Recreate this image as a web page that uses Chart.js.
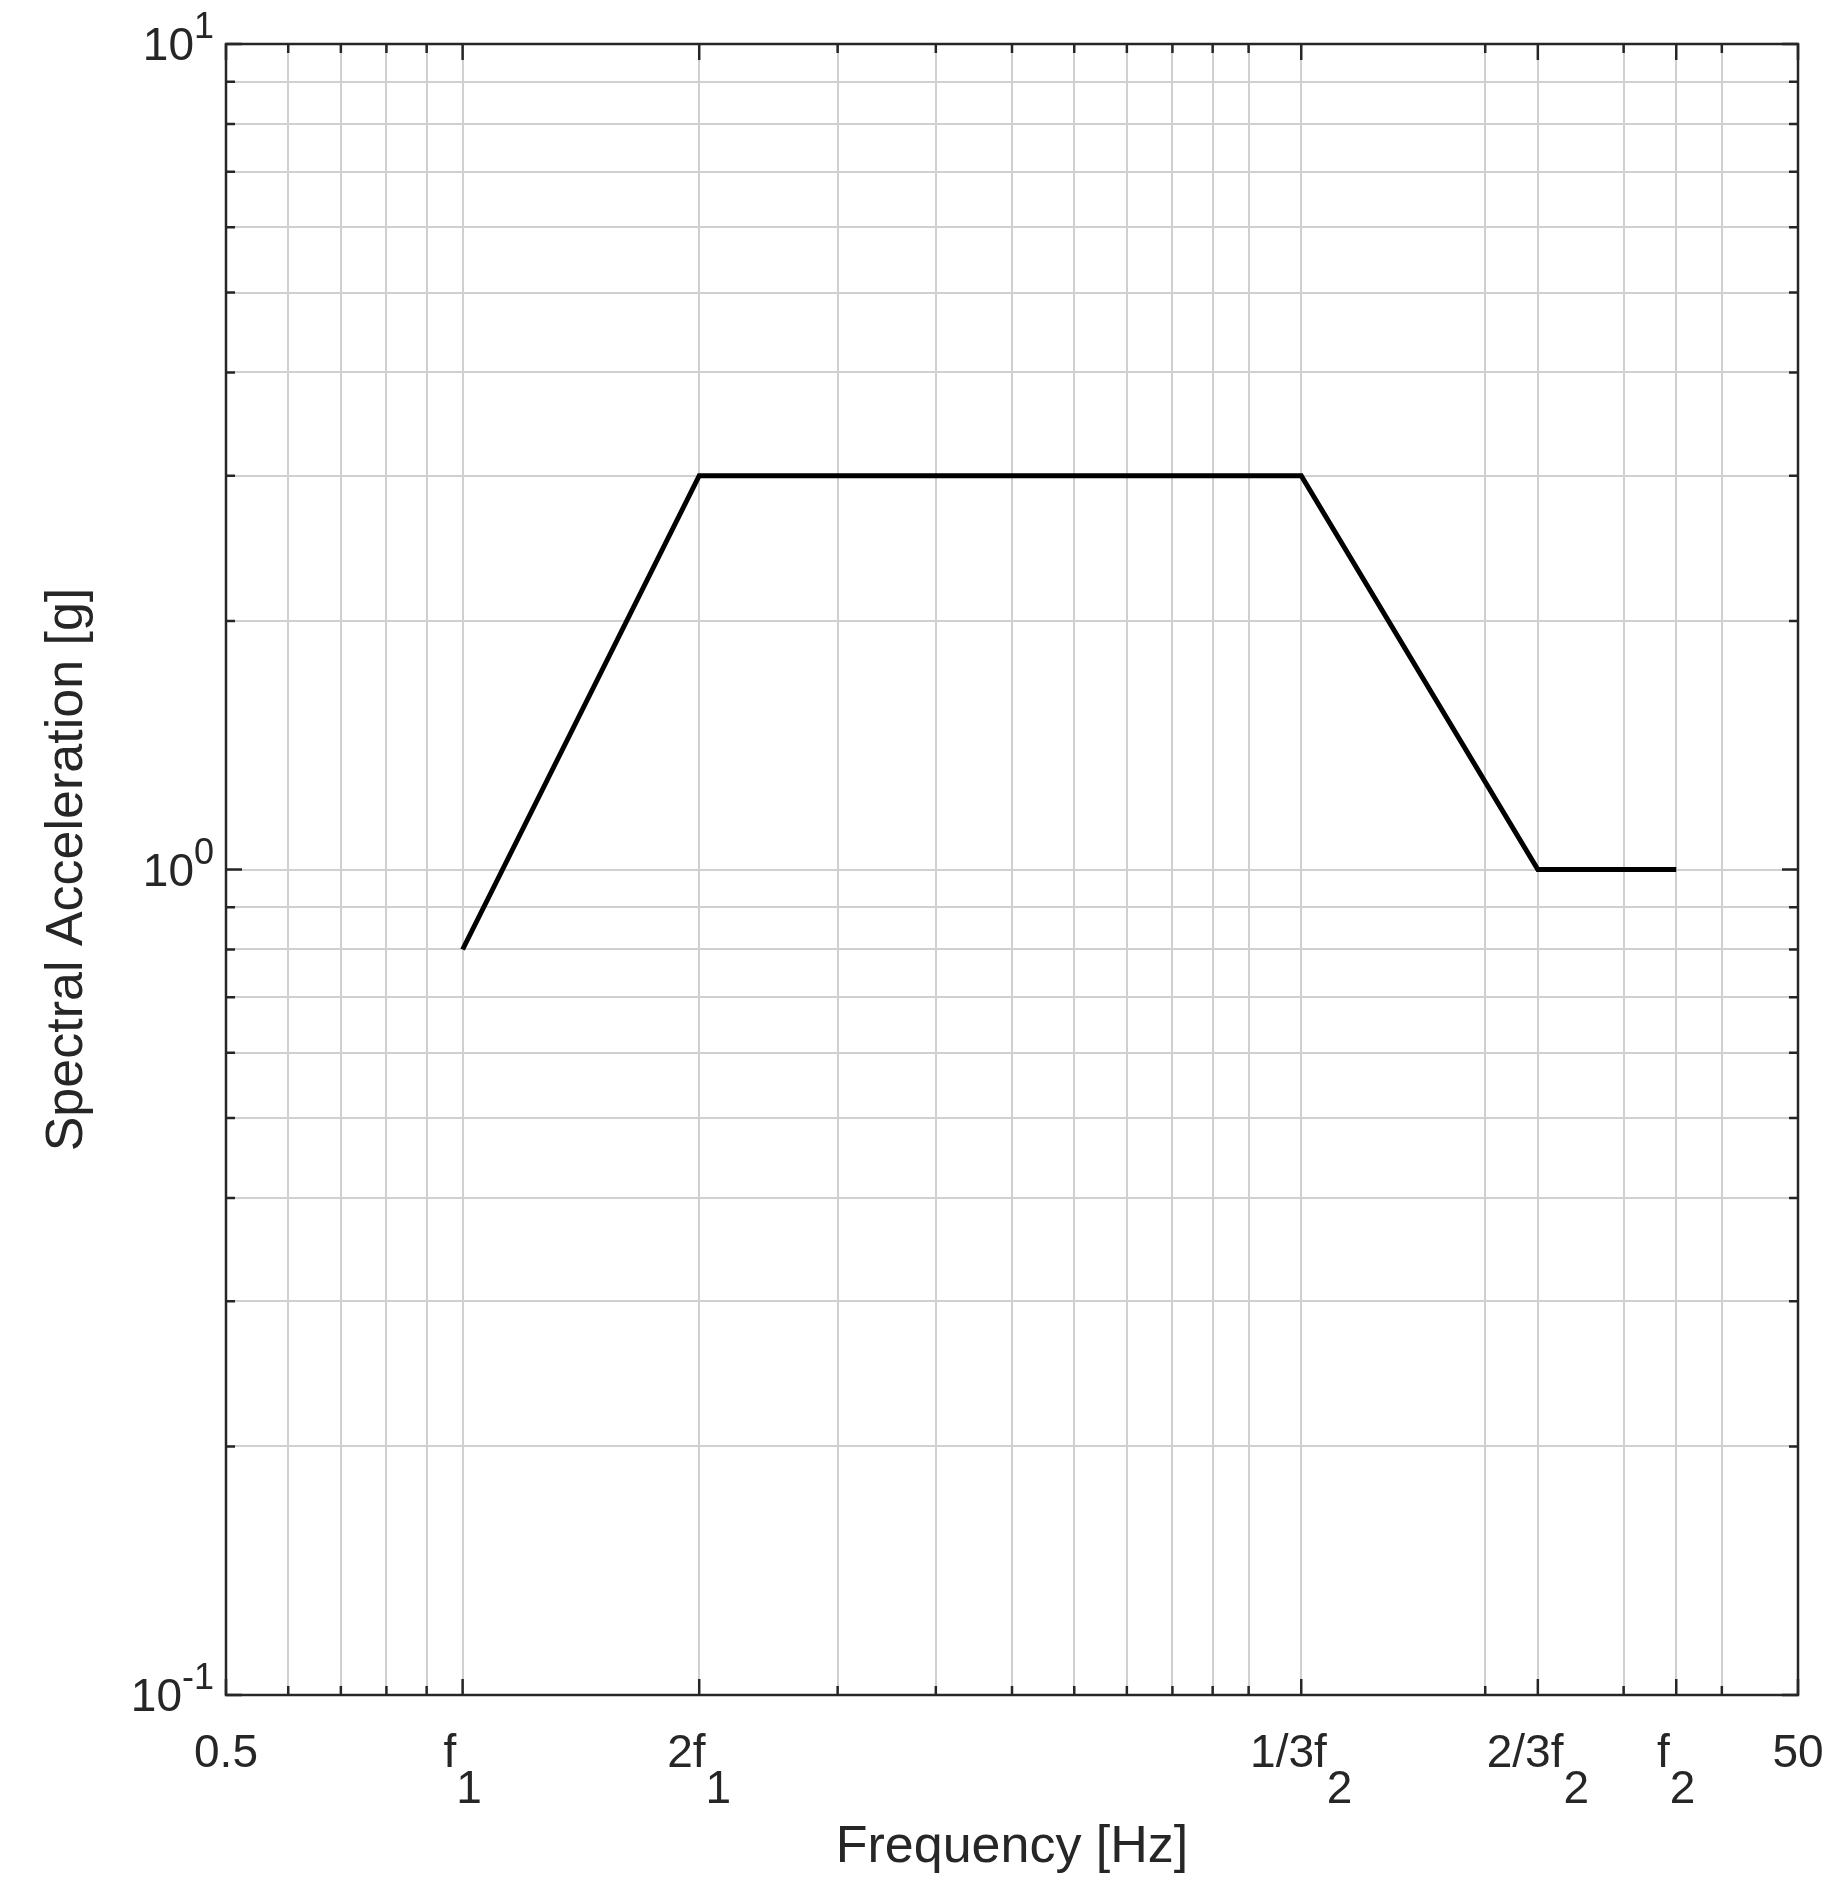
<!DOCTYPE html>
<html><head><meta charset="utf-8">
<script src="https://cdn.jsdelivr.net/npm/chart.js@4"></script>
<style>html,body{margin:0;padding:0;background:#fff}#w{width:1848px;height:1888px}</style>
</head><body><div id="w"><canvas id="c"></canvas></div>
<script>
const freq = [1, 2, 11.667, 23.333, 35];
const accel = [0.8, 3.0, 3.0, 1.0, 1.0];
const xTickValues = [0.5, 1, 2, 11.667, 23.333, 35, 50];
const xTickMain = ['0.5', 'f', '2f', '1/3f', '2/3f', 'f', '50'];
const xTickSub = ['', '1', '1', '2', '2', '2', ''];
const yTickValues = [0.1, 1, 10];
const yTickExp = ['-1', '0', '1'];
const xMinor = [0.6,0.7,0.8,0.9,3,4,5,6,7,8,9,10,20,30,40];
const yMinor = [0.2,0.3,0.4,0.5,0.6,0.7,0.8,0.9,2,3,4,5,6,7,8,9];

const FONT = '"Liberation Sans", Arial, sans-serif';
const deco = {
  id: 'deco',
  afterDraw(ch) {
    const ctx = ch.ctx, a = ch.chartArea, xs = ch.scales.x, ys = ch.scales.y;
    ctx.save();
    ctx.strokeStyle = '#262626'; ctx.lineWidth = 2.5;
    ctx.strokeRect(a.left, a.top, a.right - a.left, a.bottom - a.top);
    ctx.beginPath();
    xs.ticks.forEach(t => {
      const x = xs.getPixelForValue(t.value);
      const L = xTickValues.includes(t.value) ? 16 : 9;
      ctx.moveTo(x, a.bottom); ctx.lineTo(x, a.bottom - L);
      ctx.moveTo(x, a.top); ctx.lineTo(x, a.top + L);
    });
    ys.ticks.forEach(t => {
      const y = ys.getPixelForValue(t.value);
      const L = yTickValues.includes(t.value) ? 16 : 9;
      ctx.moveTo(a.left, y); ctx.lineTo(a.left + L, y);
      ctx.moveTo(a.right, y); ctx.lineTo(a.right - L, y);
    });
    ctx.stroke();
    ctx.fillStyle = '#262626';
    ctx.textBaseline = 'alphabetic';
    const fs = 46;
    xTickValues.forEach((v, i) => {
      const x = xs.getPixelForValue(v);
      ctx.font = fs + 'px ' + FONT;
      const w1 = ctx.measureText(xTickMain[i]).width;
      const w2 = xTickSub[i] ? ctx.measureText(xTickSub[i]).width : 0;
      const tot = w1 + w2;
      ctx.textAlign = 'left';
      ctx.fillText(xTickMain[i], x - tot / 2, a.bottom + 72);
      if (xTickSub[i]) ctx.fillText(xTickSub[i], x - tot / 2 + w1, a.bottom + 108);
    });
    yTickValues.forEach((v, i) => {
      const y = ys.getPixelForValue(v);
      ctx.font = '36px ' + FONT;
      const we = ctx.measureText(yTickExp[i]).width;
      ctx.textAlign = 'right';
      ctx.fillText(yTickExp[i], a.left - 12, y - 6);
      ctx.font = fs + 'px ' + FONT;
      ctx.fillText('10', a.left - 12 - we, y + 16);
    });
    ctx.font = '52px ' + FONT;
    ctx.textAlign = 'center';
    ctx.fillText('Frequency [Hz]', (a.left + a.right) / 2, 1862);
    ctx.translate(82, (a.top + a.bottom) / 2);
    ctx.rotate(-Math.PI / 2);
    ctx.fillText('Spectral Acceleration [g]', 0, 0);
    ctx.restore();
  }
};

new Chart(document.getElementById('c'), {
  type: 'line',
  data: { datasets: [{ data: freq.map((f, i) => ({ x: f, y: accel[i] })),
    borderColor: '#000', borderWidth: 5, pointRadius: 0, fill: false, tension: 0 }] },
  options: {
    responsive: true, maintainAspectRatio: false, animation: false,
    layout: { padding: { left: 226, right: 50, top: 44, bottom: 193 } },
    plugins: { legend: { display: false }, tooltip: { enabled: false } },
    scales: {
      x: { type: 'logarithmic', min: 0.5, max: 50,
        afterBuildTicks: s => { s.ticks = xTickValues.concat(xMinor).sort((p, q) => p - q).map(v => ({ value: v })); },
        ticks: { display: false }, border: { display: false },
        grid: { color: '#d0d0d0', lineWidth: 2, drawTicks: false } },
      y: { type: 'logarithmic', min: 0.1, max: 10,
        afterBuildTicks: s => { s.ticks = yTickValues.concat(yMinor).sort((p, q) => p - q).map(v => ({ value: v })); },
        ticks: { display: false }, border: { display: false },
        grid: { color: '#d0d0d0', lineWidth: 2, drawTicks: false } }
    }
  },
  plugins: [deco]
});
</script></body></html>
